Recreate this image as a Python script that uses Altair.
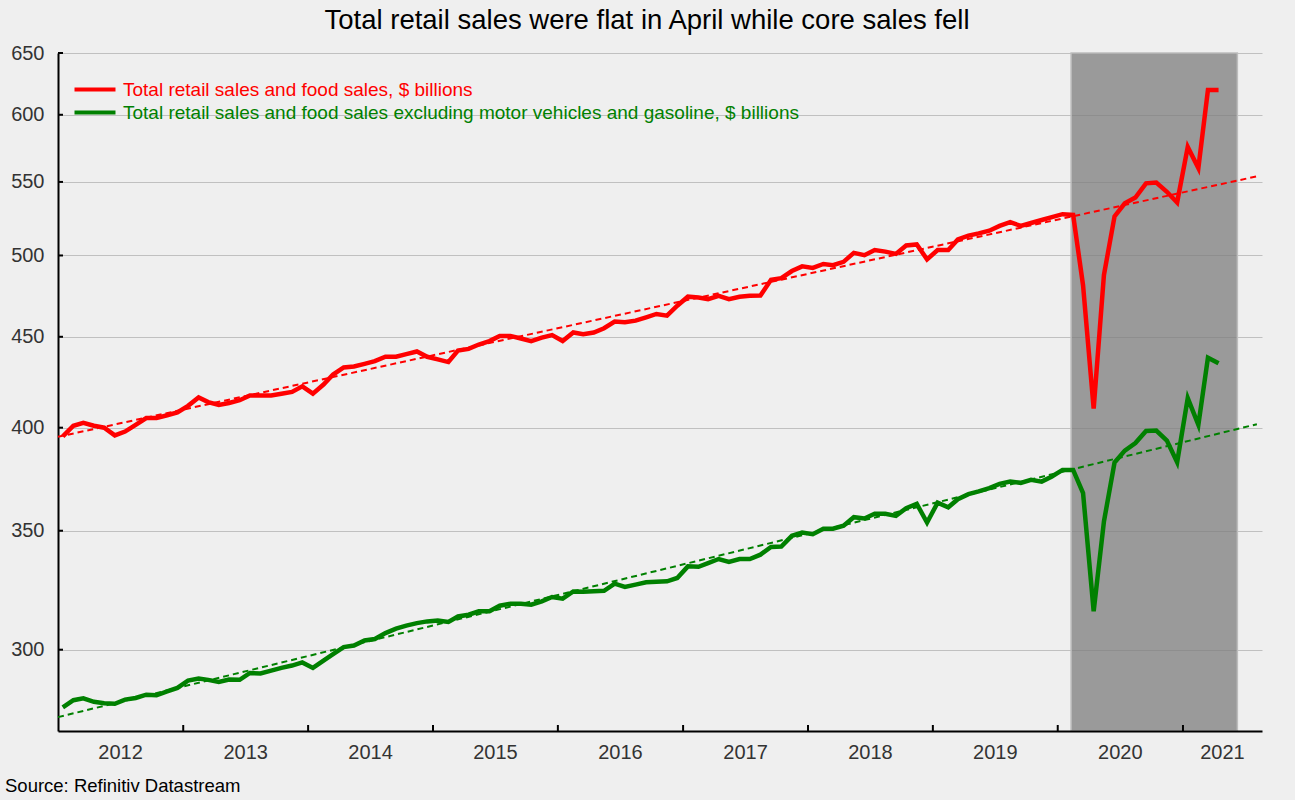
import altair as alt
import pandas as pd

title_text = "Total retail sales were flat in April while core sales fell"
source_text = "Source: Refinitiv Datastream"
series_names = [
    "Total retail sales and food sales, $ billions",
    "Total retail sales and food sales excluding motor vehicles and gasoline, $ billions",
]
series_colors = ["#FF0000", "#008000"]

# Monthly values, Jan 2012 .. Apr 2021 (112 months)
total_sales = [
    395.5, 401.0, 402.5, 401.0, 400.0, 396.0, 398.0, 401.5, 405.0, 405.0, 406.5, 408.0,
    411.5, 416.0, 413.5, 412.0, 413.0, 414.5, 417.0, 417.0, 417.0, 418.0, 419.0, 422.0,
    418.0, 423.0, 428.5, 432.5, 433.0, 434.5, 436.0, 438.5, 438.5, 440.0, 441.5, 438.5,
    437.0, 435.5, 442.0, 443.0, 445.5, 447.5, 450.5, 450.5, 449.0, 447.5, 449.5, 451.0,
    447.5, 452.5, 451.5, 452.5, 455.0, 459.0, 458.5, 459.5, 461.5, 463.5, 462.5, 468.5,
    474.0, 473.5, 472.5, 474.5, 472.5, 474.0, 474.5, 474.7, 484.5, 485.5, 490.0, 493.0,
    492.0, 494.5, 493.7, 495.9, 501.7, 500.2, 503.5, 502.5, 501.0, 506.5, 507.2, 497.5,
    503.5, 503.5, 510.5, 513.0, 514.5, 516.3, 519.5, 522.0, 519.5, 521.5, 523.5, 525.5,
    527.5, 527.0, 481.0, 410.0, 487.5, 526.0, 535.0, 539.0, 549.0, 549.5, 543.0, 535.5,
    575.5, 560.0, 619.5, 619.5,
]
core_sales = [
    278.4, 281.0, 281.7, 280.4, 279.9, 279.7, 281.2, 281.8, 283.0, 282.8, 284.2, 285.5,
    288.2, 289.0, 288.5, 287.7, 288.6, 288.5, 291.1, 290.9, 292.0, 293.0, 293.9, 295.1,
    293.0, 295.8, 298.3, 301.0, 301.6, 303.6, 304.2, 306.5, 308.3, 309.5, 310.5, 311.2,
    311.6, 311.0, 313.2, 313.9, 315.3, 315.3, 317.6, 318.4, 318.4, 318.0, 319.4, 321.2,
    320.5, 323.5, 323.4, 323.6, 323.8, 326.8, 325.4, 326.4, 327.4, 327.6, 327.8, 329.2,
    334.2, 334.0, 335.6, 337.4, 336.1, 337.4, 337.4, 339.3, 342.7, 342.9, 347.7, 349.2,
    348.4, 350.9, 350.9, 352.3, 356.2, 355.6, 357.8, 357.8, 356.8, 360.4, 362.4, 353.7,
    363.0, 360.8, 364.6, 367.0, 368.3, 369.9, 371.9, 373.0, 372.4, 373.9, 373.0, 375.5,
    378.7, 378.7, 367.5, 315.3, 354.2, 382.3, 388.3, 392.1, 398.3, 398.5, 393.4, 382.5,
    415.6, 401.5, 438.0, 434.8,
]

# Trend lines (straight on the log scale), read at both ends
trend_dates = ["2012-01-01", "2021-08-05"]
total_trend = [395.3, 554.0]
core_trend = [274.9, 401.8]

recession_start = ["2020-02-09"]
recession_end = ["2021-06-09"]

y_ticks = [300, 350, 400, 450, 500, 550, 600, 650]
y_domain = [270, 650]
x_start = "2012-01-01"
x_end = "2021-08-20"
year_labels = [str(y) for y in range(2012, 2022)]

W, H = 1204, 678
FONT = "Liberation Sans"

# ---------------- data frames ----------------
dates = pd.date_range(start="2012-01-01", periods=len(total_sales), freq="MS") + pd.Timedelta(days=14)
df = pd.concat([
    pd.DataFrame({"date": dates, "value": total_sales, "series": series_names[0]}),
    pd.DataFrame({"date": dates, "value": core_sales, "series": series_names[1]}),
])
trend_df = pd.concat([
    pd.DataFrame({"date": pd.to_datetime(trend_dates), "value": total_trend, "series": series_names[0]}),
    pd.DataFrame({"date": pd.to_datetime(trend_dates), "value": core_trend, "series": series_names[1]}),
])
rec_df = pd.DataFrame({"start": pd.to_datetime(recession_start), "end": pd.to_datetime(recession_end)})

xs, xe = pd.Timestamp(x_start), pd.Timestamp(x_end)
lab_pos = []
for y in year_labels:
    a = pd.Timestamp(f"{y}-01-01")
    b = min(pd.Timestamp(f"{int(y) + 1}-01-01"), xe)
    lab_pos.append(a + (b - a) / 2)
xlab_df = pd.DataFrame({"date": lab_pos, "label": year_labels})
xtick_df = pd.DataFrame({"date": pd.to_datetime([f"{y}-01-01" for y in year_labels[1:]])})
ytick_df = pd.DataFrame({"v": y_ticks})
src_df = pd.DataFrame({"t": [source_text]})

# ---------------- scales / axes ----------------
x_scale = alt.Scale(domain=[alt.DateTime(year=2012, month=1, date=1),
                            alt.DateTime(year=2021, month=8, date=20)])
y_scale = alt.Scale(type="log", domain=y_domain, nice=False)
x_axis = alt.Axis(labels=False, ticks=False, grid=False, domainColor="black",
                  domainWidth=2, title=None, zindex=1)
y_axis = alt.Axis(values=y_ticks, ticks=False, grid=True, gridColor="#C0C0C0",
                  gridWidth=1, domainColor="black", domainWidth=2, labelFontSize=20,
                  labelColor="#333333", labelPadding=14, labelFont=FONT, format="d",
                  title=None)

X = alt.X("date:T", scale=x_scale, axis=x_axis)
Y = alt.Y("value:Q", scale=y_scale, axis=y_axis)

shade = alt.Chart(rec_df).mark_rect(
    fill="#7D7D7D", fillOpacity=0.745, stroke="#BDBDBD", strokeWidth=1.5
).encode(x=alt.X("start:T", scale=x_scale, axis=x_axis), x2="end:T")

trend_layers = []
for name, col in zip(series_names, series_colors):
    trend_layers.append(
        alt.Chart(trend_df).transform_filter(alt.datum.series == name)
        .mark_line(strokeWidth=2, strokeDash=[6, 4], color=col).encode(x=X, y=Y)
    )

legend = alt.Legend(
    orient="none", legendX=24.5, legendY=24, title=None, labelFontSize=19, labelFont=FONT,
    symbolType="M-2,0H2", symbolStrokeWidth=4, symbolSize=420, labelOffset=15.5, labelLimit=0,
    rowPadding=-2.5,
    labelColor=alt.ExprRef(expr=f"datum.value == '{series_names[0]}' ? '{series_colors[0]}' : '{series_colors[1]}'"),
)
lines = alt.Chart(df).mark_line(strokeWidth=4.5).encode(
    x=X, y=Y,
    color=alt.Color("series:N", scale=alt.Scale(domain=series_names, range=series_colors), legend=legend),
)

xticks = alt.Chart(xtick_df).mark_rule(color="black", strokeWidth=2).encode(
    x=alt.X("date:T", scale=x_scale, axis=x_axis), y=alt.value(H - 6), y2=alt.value(H))
yticks = alt.Chart(ytick_df).mark_rule(color="black", strokeWidth=2).encode(
    y=alt.Y("v:Q", scale=y_scale, axis=y_axis), x=alt.value(0), x2=alt.value(5))
xlabels = alt.Chart(xlab_df).mark_text(
    font=FONT, fontSize=20, color="#333333", baseline="middle", align="center"
).encode(x=alt.X("date:T", scale=x_scale, axis=x_axis), y=alt.value(H + 22), text="label:N")
source = alt.Chart(src_df).mark_text(
    font=FONT, fontSize=18.5, color="black", align="left", baseline="middle"
).encode(x=alt.value(-53), y=alt.value(H + 55), text="t:N")

chart = alt.layer(shade, *trend_layers, lines, xticks, yticks, xlabels, source).properties(
    width=W, height=H,
    title=alt.TitleParams(text=title_text, fontSize=27.5, font=FONT, fontWeight="normal",
                          color="black", anchor="middle", dx=-13, offset=9),
    padding={"left": 58, "top": 53, "right": 33, "bottom": 69},
    autosize=alt.AutoSizeParams(type="none"),
).configure(background="#EFEFEF").configure_view(stroke=None)

chart.save("out.html", embed_options={"renderer": "svg", "actions": False})
